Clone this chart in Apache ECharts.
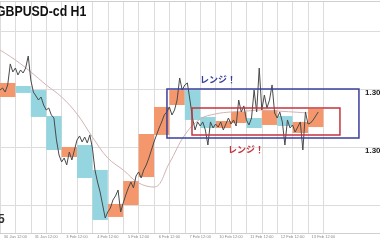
<!DOCTYPE html>
<html><head><meta charset="utf-8">
<script src="https://cdn.jsdelivr.net/npm/echarts@6/dist/echarts.min.js"></script>
<style>html,body{margin:0;padding:0;background:#fff}#c{width:380px;height:240px}</style>
</head><body><div id="c"></div>
<script>
// ---- data ----
const title = 'GBPUSD-cd H1';
// H1 price path, one sample every 2 bars
const prices = [1.30491,1.30509,1.30474,1.30535,1.30716,1.30647,1.30681,1.30621,1.30664,1.30638,
1.30681,1.30784,1.30578,1.30474,1.30440,1.30405,1.30431,1.30362,1.30319,1.30336,
1.30276,1.30250,1.30060,1.29931,1.29871,1.29905,1.29845,1.29957,1.29888,1.29974,
1.30060,1.30095,1.30043,1.30086,1.30035,1.30104,1.29991,1.29802,1.29698,1.29612,
1.29500,1.29388,1.29440,1.29474,1.29543,1.29578,1.29629,1.29440,1.29517,1.29586,
1.29647,1.29698,1.29647,1.29750,1.29785,1.29733,1.29802,1.29845,1.29905,1.29974,
1.30043,1.30104,1.30164,1.30216,1.30276,1.30302,1.30345,1.30276,1.30319,1.30405,
1.30595,1.30491,1.30535,1.30552,1.30405,1.30250,1.30147,1.30216,1.30181,1.30216,
1.30147,1.30017,1.30216,1.30164,1.30198,1.30172,1.30216,1.30147,1.30198,1.30250,
1.30198,1.30233,1.30181,1.30405,1.30302,1.30354,1.30233,1.30190,1.30250,1.30491,
1.30302,1.30681,1.30319,1.30448,1.30336,1.30405,1.30535,1.30293,1.30250,1.30302,
1.30216,1.30017,1.30233,1.30164,1.30190,1.30129,1.30172,1.30216,1.29974,1.30302,
1.30198,1.30207,1.30233,1.30267,1.30302];
// moving average, one sample every 12 bars
const maValues = [1.30836,1.30750,1.30647,1.30535,1.30431,1.30285,1.30086,1.29905,1.29802,1.29690,
1.29655,1.29862,1.30104,1.30241,1.30285,1.30302,1.30310,1.30319,1.30310,1.30302,1.30293];
// higher-timeframe candle bodies (12 bars each)
const htfOpen  = [1.30431,1.30526,1.30491,1.30267,1.29914,1.30017,1.29802,1.29397,1.29500,1.29741,1.30104,1.30362,1.30491,1.30259,1.30164,1.30207,1.30250,1.30190,1.30267,1.30121,1.30172];
const htfClose = [1.30552,1.30466,1.30259,1.29974,1.30000,1.29733,1.29371,1.29509,1.29707,1.30112,1.30345,1.30491,1.30233,1.30164,1.30224,1.30302,1.30164,1.30319,1.30181,1.30216,1.30328];
// range boxes (bar index / price)
const rangeStart = [130.1, 149.6];
const rangeEnd   = [279.7, 264.9];
const rangeHigh  = [1.30500, 1.30336];
const rangeLow   = [1.30078, 1.30104];
const rangeText  = ['レンジ！', 'レンジ！'];
const yTickLabels = {'1.3050':'1.3050', '1.3000':'1.3000'};
const xTickLabels = ['30 Jan 00:00','30 Jan 12:00','31 Jan 00:00','31 Jan 12:00','3 Feb 00:00','3 Feb 12:00','4 Feb 00:00','4 Feb 12:00','5 Feb 00:00','5 Feb 12:00','6 Feb 00:00','6 Feb 12:00','7 Feb 00:00','7 Feb 12:00','10 Feb 00:00','10 Feb 12:00','11 Feb 00:00','11 Feb 12:00','12 Feb 00:00','12 Feb 12:00','13 Feb 00:00','13 Feb 12:00'];

// ---- styles ----
const ORANGE = '#f5976c', CYAN = '#95d5e0';
const rangeColors = ['#3a3f9c', '#c4353d'];
const labelPos = [[155.8, 1.30578], [177.7, 1.29974]];
const BAR = 12;
const OB = {outerBoundsMode: 'none', containLabel: false};
const GRIDLINE = '#dcdcdc';

const chart = echarts.init(document.getElementById('c'), null, {renderer: 'canvas'});
const yMin = 1.29, yMax = 1.315;
chart.setOption({
  animation: false,
  backgroundColor: '#fff',
  graphic: [
    {type: 'text', x: -4, y: 5, scaleX: 0.88, z: 10,
      style: {text: title, font: 'bold 14px "Liberation Sans"', fill: '#111'}},
    {type: 'text', x: -2, y: 214, z: 10, style: {text: '5', font: 'bold 12px "Liberation Sans"', fill: '#333'}}
  ],
  grid: [
    Object.assign({left: 0, right: 56.6, top: -27, bottom: -23}, OB),
    Object.assign({left: 0, right: 0, top: -27, bottom: -23}, OB),
    Object.assign({left: 0, right: 56.6, top: 1, bottom: 7}, OB),
    Object.assign({left: 0, right: 0, top: 1, bottom: 7}, OB)
  ],
  xAxis: [
    {gridIndex: 0, type: 'value', min: 0, max: 252, show: false},
    {gridIndex: 1, type: 'value', min: 0, max: 296.1, show: false},
    {gridIndex: 2, type: 'value', min: 0, max: 252, interval: BAR,
      axisLine: {show: false}, axisTick: {show: false},
      splitLine: {show: true, lineStyle: {color: GRIDLINE, width: 1}},
      axisLabel: {show: true, fontSize: 4, color: '#8a8a8a', margin: 2, fontFamily: 'Liberation Sans',
        formatter: v => { const k = Math.round(v / BAR); return (k % 2 === 1 && xTickLabels[k]) ? xTickLabels[k] : ''; }}},
    {gridIndex: 3, type: 'value', min: 0, max: 1, position: 'bottom',
      axisLine: {show: true, lineStyle: {color: '#cfcfcf'}}, axisTick: {show: false}, axisLabel: {show: false}, splitLine: {show: false}},
    {gridIndex: 3, type: 'value', min: 0, max: 1, position: 'top',
      axisLine: {show: true, lineStyle: {color: '#cfcfcf'}}, axisTick: {show: false}, axisLabel: {show: false}, splitLine: {show: false}}
  ],
  yAxis: [
    {gridIndex: 0, type: 'value', min: yMin, max: yMax, show: false},
    {gridIndex: 1, type: 'value', min: yMin, max: yMax, interval: 0.005, position: 'right',
      axisLine: {show: false}, axisTick: {show: false},
      splitLine: {show: true, lineStyle: {color: GRIDLINE, width: 1}},
      axisLabel: {show: true, margin: -15, align: 'left', verticalAlign: 'top', lineHeight: 8,
        fontSize: 8, fontWeight: 'bold', color: '#222', fontFamily: 'Liberation Sans',
        formatter: v => yTickLabels[v.toFixed(4)] || ''}},
    {gridIndex: 2, type: 'value', min: 0, max: 1, show: false},
    {gridIndex: 3, type: 'value', min: 0, max: 1, show: false}
  ],
  series: [
    {type: 'custom', xAxisIndex: 0, yAxisIndex: 0, z: 2,
      data: htfOpen.map((o, k) => [k * BAR, (k + 1) * BAR, o, htfClose[k]]),
      renderItem: (params, api) => {
        const o = api.value(2), c = api.value(3);
        const p0 = api.coord([api.value(0), Math.max(o, c)]);
        const p1 = api.coord([api.value(1), Math.min(o, c)]);
        return {type: 'rect', shape: {x: p0[0], y: p0[1], width: p1[0] - p0[0], height: p1[1] - p0[1]},
          style: {fill: c >= o ? ORANGE : CYAN}};
      }},
    {type: 'line', xAxisIndex: 0, yAxisIndex: 0, z: 3, showSymbol: false, smooth: 0.4,
      data: maValues.map((v, k) => [k * BAR, v]),
      lineStyle: {color: '#d3b3b3', width: 1}},
    {type: 'line', xAxisIndex: 0, yAxisIndex: 0, z: 4, showSymbol: false,
      data: prices.map((v, i) => [i * 2, v]),
      lineStyle: {color: '#4a4a4a', width: 1}},
    {type: 'custom', xAxisIndex: 1, yAxisIndex: 1, z: 5,
      data: rangeStart.map((s, i) => [s, rangeEnd[i], rangeHigh[i], rangeLow[i]]),
      renderItem: (params, api) => {
        const i = params.dataIndex;
        const p0 = api.coord([api.value(0), api.value(2)]);
        const p1 = api.coord([api.value(1), api.value(3)]);
        const lp = api.coord(labelPos[i]);
        return {type: 'group', children: [
          {type: 'rect', shape: {x: p0[0], y: p0[1], width: p1[0] - p0[0], height: p1[1] - p0[1]},
            style: {fill: 'none', stroke: rangeColors[i], lineWidth: 1.5}},
          {type: 'text', x: lp[0], y: lp[1], style: {text: rangeText[i], fill: rangeColors[i],
            font: 'bold 9px "Noto Sans CJK JP"', textVerticalAlign: 'middle', textAlign: 'left'}}
        ]};
      }}
  ]
});
</script></body></html>
